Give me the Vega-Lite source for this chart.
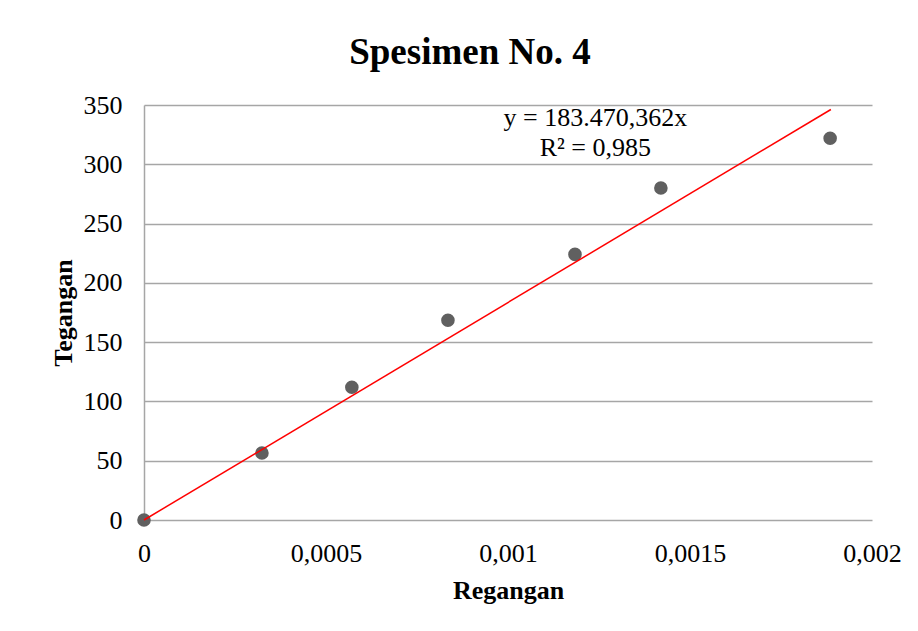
{
  "$schema": "https://vega.github.io/schema/vega-lite/v6.json",
  "width": 728,
  "height": 415,
  "autosize": {"type": "none"},
  "padding": {"left": 144, "top": 105, "right": 46, "bottom": 111},
  "background": "white",
  "config": {
    "view": {"stroke": null},
    "font": "Liberation Serif",
    "axis": {"labelFont": "Liberation Serif", "titleFont": "Liberation Serif", "labelColor": "black", "titleColor": "black", "labelFontSize": 26, "titleFontSize": 26, "titleFontWeight": "bold"}
  },
  "title": {
    "text": "Spesimen No. 4",
    "font": "Liberation Serif",
    "fontSize": 37,
    "fontWeight": "bold",
    "color": "black",
    "offset": 20,
    "dx": -38
  },
  "datasets": {
    "points": [
      {"Regangan": 0, "Tegangan": 0},
      {"Regangan": 0.000324, "Tegangan": 56.5},
      {"Regangan": 0.000571, "Tegangan": 112},
      {"Regangan": 0.000835, "Tegangan": 168.5},
      {"Regangan": 0.001184, "Tegangan": 224},
      {"Regangan": 0.00142, "Tegangan": 280},
      {"Regangan": 0.001885, "Tegangan": 322}
    ],
    "trend": [
      {"Regangan": 0, "Tegangan": 0},
      {"Regangan": 0.001887, "Tegangan": 346.2}
    ],
    "labels": [
      {"Regangan": 0.00124, "Tegangan": 339, "label": "y = 183.470,362x"},
      {"Regangan": 0.00124, "Tegangan": 314, "label": "R² = 0,985"}
    ]
  },
  "layer": [
    {
      "data": {"name": "points"},
      "mark": {"type": "point", "filled": true, "color": "#606060", "opacity": 1, "size": 185},
      "encoding": {
        "x": {
          "field": "Regangan", "type": "quantitative",
          "scale": {"domain": [0, 0.002], "nice": false, "zero": true},
          "axis": {
            "title": "Regangan",
            "values": [0, 0.0005, 0.001, 0.0015, 0.002],
            "labelExpr": "replace('' + datum.value, '.', ',')",
            "grid": false, "domain": false, "ticks": false,
            "labelPadding": 20, "titlePadding": 11, "labelFlush": false
          }
        },
        "y": {
          "field": "Tegangan", "type": "quantitative",
          "scale": {"domain": [0, 350], "nice": false},
          "axis": {
            "title": "Tegangan",
            "values": [0, 50, 100, 150, 200, 250, 300, 350],
            "grid": true, "gridColor": "#a6a6a6", "gridWidth": 1.5,
            "domain": true, "domainColor": "#a6a6a6", "domainWidth": 1.5,
            "ticks": false, "labelPadding": 22, "titlePadding": 7, "labelFlush": false
          }
        }
      }
    },
    {
      "data": {"name": "trend"},
      "mark": {"type": "line", "color": "#ff0000", "strokeWidth": 1.5},
      "encoding": {
        "x": {"field": "Regangan", "type": "quantitative"},
        "y": {"field": "Tegangan", "type": "quantitative"}
      }
    },
    {
      "data": {"name": "labels"},
      "mark": {"type": "text", "font": "Liberation Serif", "fontSize": 26, "color": "black", "align": "center", "baseline": "middle"},
      "encoding": {
        "x": {"field": "Regangan", "type": "quantitative"},
        "y": {"field": "Tegangan", "type": "quantitative"},
        "text": {"field": "label"}
      }
    }
  ]
}
